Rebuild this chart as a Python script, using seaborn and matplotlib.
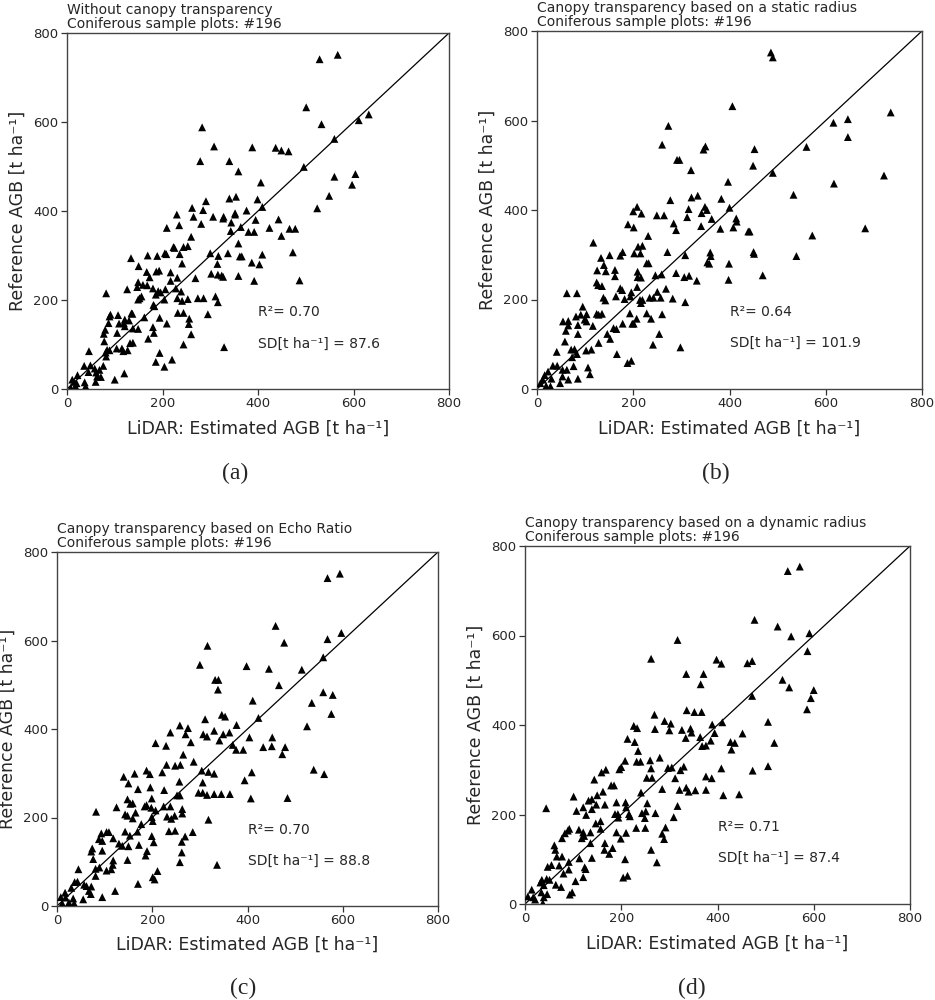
import numpy as np
import pandas as pd
import matplotlib
matplotlib.use("Agg")
import matplotlib.pyplot as plt
import seaborn as sns

# ---------------- data ----------------
a_x = [529,567,501,533,611,632,560,283,308,388,437,449,464,279,340,359,496,406,604,560,597,549,524,291,340,354,399,409,262,285,376,230,265,306,328,327,352,352,443,395,235,281,344,209,364,424,466,478,343,380,392,449,260,253,244,223,225,359,205,208,300,236,337,473,362,366,317,409,169,189,134,315,241,387,403,150,193,187,217,167,302,316,327,324,359,173,231,269,217,392,487,149,159,168,147,126,180,206,228,191,196,239,156,186,149,152,82,231,241,253,274,286,204,311,316,181,183,135,137,91,89,107,232,244,295,162,256,194,121,130,87,109,119,255,209,80,77,121,138,149,180,105,182,260,170,78,132,138,244,104,115,329,127,118,84,89,81,194,82,46,220,186,204,36,49,76,58,68,45,61,63,71,22,120,100,60,11,15,20,37,39,18,8]
a_y = [741,751,633,595,604,617,562,588,545,543,542,536,534,512,512,489,499,464,483,477,459,434,406,422,428,432,426,409,407,402,401,392,387,387,387,383,395,392,381,380,368,371,374,362,364,362,360,360,355,353,353,344,342,321,319,319,317,327,305,303,305,303,305,307,298,298,299,302,300,299,294,281,282,284,280,276,266,264,262,263,259,257,252,255,254,251,250,249,243,243,244,240,234,233,229,224,226,224,226,220,217,219,208,212,201,204,215,204,198,202,204,204,201,208,195,189,186,170,169,167,163,166,171,171,168,161,158,160,156,154,148,147,148,146,147,133,124,141,136,135,139,126,126,123,113,107,103,104,100,91,91,94,87,85,88,87,82,81,73,85,66,61,50,52,53,52,46,43,38,37,28,27,31,35,21,16,21,16,13,15,6,6,3]

b_x = [486,490,406,273,735,646,616,646,260,560,346,350,452,291,296,449,320,490,721,397,617,533,334,321,383,277,400,208,200,217,349,353,315,312,342,249,264,414,415,284,363,189,201,289,408,341,381,439,442,682,572,231,117,210,219,202,215,271,308,178,173,151,360,361,450,451,539,133,139,228,232,354,358,399,125,143,162,209,398,469,162,209,216,246,259,289,306,316,332,124,127,135,173,177,208,196,194,164,268,250,83,62,138,142,182,214,216,219,234,242,257,282,308,95,193,198,201,124,128,135,81,91,103,99,103,116,54,65,228,237,260,207,65,85,85,60,58,146,128,152,159,165,178,254,241,298,71,78,83,73,102,113,166,188,196,41,76,106,110,33,42,23,53,62,16,53,65,85,12,7,19,28,30,48]
b_y = [752,741,632,588,618,603,595,563,546,541,535,542,536,512,512,499,489,483,477,463,459,434,432,428,425,422,405,407,397,392,407,400,402,384,393,388,388,381,374,370,380,368,361,355,361,364,358,352,352,359,343,342,327,318,320,303,303,306,299,306,298,299,305,297,306,302,297,293,277,281,281,283,280,280,265,263,266,262,244,254,252,250,249,254,256,259,250,253,242,238,232,230,225,221,228,216,207,207,224,217,214,214,204,198,201,199,192,199,204,204,204,202,194,184,169,146,146,168,166,168,162,166,167,155,151,141,151,152,169,157,167,157,142,143,123,130,106,123,103,112,136,134,146,123,99,93,88,89,78,71,86,88,78,58,63,83,51,48,33,52,52,39,43,43,31,28,21,23,21,13,7,6,23,13]

c_x = [568,594,459,568,597,477,559,316,300,398,445,514,332,339,466,338,559,579,411,535,576,346,353,311,423,525,258,275,377,238,270,330,307,315,362,349,341,404,281,452,207,229,369,391,376,433,451,479,473,265,287,230,248,259,221,188,195,163,140,304,318,330,539,561,409,394,150,306,170,196,257,225,297,306,315,330,345,363,407,484,252,258,148,154,159,199,188,224,238,125,184,263,198,207,165,143,148,82,263,231,240,247,159,199,201,318,177,143,235,248,285,269,199,169,153,88,93,104,109,95,118,130,137,150,172,203,189,186,262,262,258,148,72,74,76,95,118,117,114,104,89,81,81,211,201,205,336,170,45,37,43,57,62,67,72,71,122,95,30,17,18,8,34,55,25,11,36]
c_y = [741,751,633,603,617,595,562,588,545,542,536,534,511,511,499,489,483,477,464,459,434,432,428,422,425,406,408,402,409,392,388,396,388,383,392,388,374,381,370,381,368,362,364,353,353,359,361,359,343,342,326,319,317,319,302,306,298,299,292,306,303,299,308,298,302,284,277,279,264,268,281,262,256,256,251,253,253,253,243,244,250,250,241,231,232,243,228,225,225,223,225,219,222,216,211,207,204,213,209,202,197,204,198,201,192,195,185,168,169,170,167,157,158,168,159,151,164,167,167,147,153,141,136,135,138,144,124,114,145,121,99,104,123,130,106,125,103,93,83,80,87,84,68,79,65,60,93,50,83,54,55,48,45,34,44,27,34,20,41,30,19,20,17,15,8,6,6]

d_x = [546,571,477,525,591,553,317,587,262,398,408,462,472,335,371,365,535,472,549,600,594,586,336,352,367,269,290,303,226,233,389,410,505,270,300,326,344,346,334,364,452,213,228,386,394,427,436,518,235,429,368,376,280,208,232,240,260,297,305,262,200,196,168,159,323,408,330,473,505,253,264,144,376,388,312,179,185,335,162,241,285,321,340,354,376,412,445,101,132,139,150,166,190,209,254,148,121,44,139,107,210,317,127,187,193,216,218,243,251,271,194,249,309,157,147,92,83,89,77,112,121,136,118,123,157,190,231,250,292,285,289,210,199,166,182,136,175,262,274,61,63,66,77,71,55,80,113,91,91,124,126,139,208,47,45,51,35,32,39,64,75,105,98,93,165,121,204,213,14,34,46,39,17,6,21,37]
d_y = [744,754,635,620,605,598,590,565,548,546,537,538,543,514,514,491,501,465,484,478,460,435,433,429,429,423,409,403,398,393,401,406,407,391,388,389,392,383,371,373,381,369,362,365,382,362,360,360,342,345,353,354,327,320,318,318,321,304,305,303,306,301,300,294,299,303,307,298,308,282,282,278,285,281,281,265,265,260,251,249,257,255,251,254,255,243,245,240,231,234,243,222,227,227,225,222,216,214,212,208,216,219,199,201,201,201,196,203,207,203,193,192,194,185,180,168,158,164,147,166,160,160,147,152,168,160,170,170,171,157,145,159,146,136,125,136,112,121,93,131,121,106,106,86,87,68,102,94,77,82,78,103,100,83,56,54,54,48,42,43,38,51,26,21,121,60,59,63,32,26,22,15,15,17,10,2]

titles = ["Without canopy transparency",
          "Canopy transparency based on a static radius",
          "Canopy transparency based on Echo Ratio",
          "Canopy transparency based on a dynamic radius"]
subtitle = "Coniferous sample plots: #196"
r2_values = ["0.70", "0.64", "0.70", "0.71"]
sd_values = ["87.6", "101.9", "88.8", "87.4"]
captions = ["(a)", "(b)", "(c)", "(d)"]
ticks = [0, 200, 400, 600, 800]

xs = [a_x, b_x, c_x, d_x]
ys = [a_y, b_y, c_y, d_y]

# ---------------- figure ----------------
sns.set_style("ticks")
plt.rcParams['font.family'] = ['DejaVu Sans']

W, H = 935, 1000
fig = plt.figure(figsize=(W / 100, H / 100), dpi=100)

# axes boxes in pixels: left, top, right, bottom
boxes = [(67, 33, 449, 389), (537, 31, 922, 389),
         (57, 552, 438, 906), (525, 546, 910, 904)]
cap_pos = [(235, 473), (716, 473), (243, 988), (692, 988)]

for i in range(4):
    l, t, r, b = boxes[i]
    ax = fig.add_axes([l / W, 1 - b / H, (r - l) / W, (b - t) / H])
    df = pd.DataFrame({"x": xs[i], "y": ys[i]})
    sns.scatterplot(data=df, x="x", y="y", ax=ax, marker="^", color="black",
                    s=32, linewidth=0, edgecolor="none", zorder=3)
    ax.plot([0, 800], [0, 800], color="black", lw=0.9, zorder=2)
    ax.set_xlim(0, 800)
    ax.set_ylim(0, 800)
    ax.set_xticks(ticks)
    ax.set_yticks(ticks)
    ax.tick_params(labelsize=9.5, length=4, width=0.9, color="#333333",
                   direction="out", pad=2)
    for sp in ax.spines.values():
        sp.set_visible(True)
        sp.set_color("#444444")
        sp.set_linewidth(1.0)
    ax.set_xlabel("LiDAR: Estimated AGB [t ha\u207b\u00b9]", fontsize=12.5)
    ax.set_ylabel("Reference AGB [t ha\u207b\u00b9]", fontsize=12.5)
    ax.xaxis.set_label_coords(0.5, -0.085)
    ax.yaxis.set_label_coords(-0.105, 0.5)
    ax.text(0.0, 1.005, titles[i] + "\n" + subtitle, transform=ax.transAxes,
            ha="left", va="bottom", fontsize=10, linespacing=1.0)
    ax.text(400, 172, "R\u00b2= " + r2_values[i], ha="left", va="center",
            fontsize=10)
    ax.text(400, 102, "SD[t ha\u207b\u00b9] = " + sd_values[i], ha="left",
            va="center", fontsize=10)
    cx, cy = cap_pos[i]
    fig.text(cx / W, 1 - cy / H, captions[i], ha="center", va="center",
             fontsize=17, family="Liberation Serif")

fig.savefig("out.png", dpi=100)
